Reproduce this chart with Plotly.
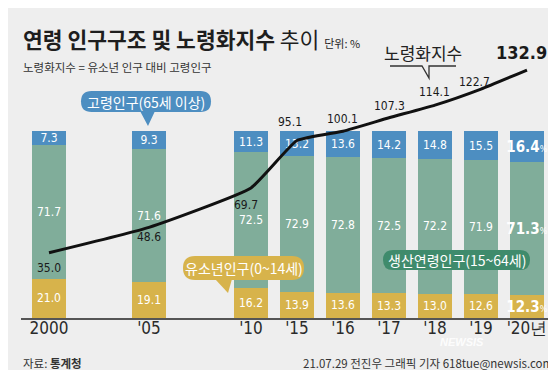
import plotly.graph_objects as go

# ---- data ----
years = ["2000", "'05", "'10", "'15", "'16", "'17", "'18", "'19", "'20년"]
youth = [21.0, 19.1, 16.2, 13.9, 13.6, 13.3, 13.0, 12.6, 12.3]        # 유소년인구(0~14세)
working = [71.7, 71.6, 72.5, 72.9, 72.8, 72.5, 72.2, 71.9, 71.3]     # 생산연령인구(15~64세)
elderly = [7.3, 9.3, 11.3, 13.2, 13.6, 14.2, 14.8, 15.5, 16.4]       # 고령인구(65세 이상)
aging_index = [35.0, 48.6, 69.7, 95.1, 100.1, 107.3, 114.1, 122.7, 132.9]  # 노령화지수

# ---- layout helpers ----
W, H = 556, 370
ML, MR, MT, MB = 13, 12, 0, 60
PW, PH = W - ML - MR, H - MT - MB
x_pos = [0, 2.174, 4.391, 5.391, 6.391, 7.391, 8.391, 9.391, 10.391]
X_RANGE = [(ML - 41) / 46, (W - MR - 41) / 46]
Y_RANGE = [0, PH / 1.866]

NUM_FONT = "DejaVu Sans Condensed, Liberation Sans Narrow, Roboto, sans-serif"
KR_FONT = "Noto Sans CJK KR, sans-serif"

BLUE = "#4d8ec1"
GREEN = "#80ad9a"
YELLOW = "#d7b34b"
DGREEN = "#3f8b6c"
BG = "#eeeeee"


def px(x):
    return (x - ML) / PW


def py(y):
    return (H - MB - y) / PH


def seg_labels(vals):
    out = []
    for i, v in enumerate(vals):
        if i == len(vals) - 1:
            out.append(f"<b>{v:.1f}</b><span style='font-size:9px'>%</span>")
        else:
            out.append(f"{v:.1f}")
    return out


fig = go.Figure()
for name, vals, col in [("유소년인구(0~14세)", youth, YELLOW),
                        ("생산연령인구(15~64세)", working, GREEN),
                        ("고령인구(65세 이상)", elderly, BLUE)]:
    sizes = [12] * (len(vals) - 1) + [15]
    fig.add_trace(go.Bar(
        x=x_pos, y=vals, name=name, marker=dict(color=col, line=dict(width=0)),
        width=0.72, text=seg_labels(vals), textposition="inside", textangle=0,
        insidetextanchor="middle", constraintext="none",
        textfont=dict(color="white", family=NUM_FONT, size=sizes),
        hoverinfo="skip", showlegend=False))

fig.add_trace(go.Scatter(
    x=x_pos, y=aging_index, mode="lines",
    line=dict(color="#111111", width=3, shape="spline", smoothing=0.4),
    hoverinfo="skip", showlegend=False))

# line value labels
shifts = [(0, -15), (0, -10), (-5, -17), (-7, 19), (0, 12), (1, 12), (0, 13), (-6, 7), (22, 18)]
for i, (v, (dx, dy)) in enumerate(zip(aging_index, shifts)):
    last = i == len(aging_index) - 1
    fig.add_annotation(x=x_pos[i], y=v, xref="x", yref="y", showarrow=False,
                       text=f"<b>{v:.1f}</b>" if last else f"{v:.1f}",
                       xshift=dx, yshift=dy, xanchor="right" if last else "center",
                       font=dict(family=NUM_FONT, size=18 if last else 12, color="#1a1a1a"))

shapes = []


def rounded_rect(x0, y0, x1, y1, r, color):
    X0, X1 = px(x0), px(x1)
    Y0, Y1 = py(y0), py(y1)
    rx, ry = r / PW, r / PH
    path = (f"M {X0+rx},{Y0} L {X1-rx},{Y0} Q {X1},{Y0} {X1},{Y0-ry} "
            f"L {X1},{Y1+ry} Q {X1},{Y1} {X1-rx},{Y1} L {X0+rx},{Y1} "
            f"Q {X0},{Y1} {X0},{Y1+ry} L {X0},{Y0-ry} Q {X0},{Y0} {X0+rx},{Y0} Z")
    shapes.append(dict(type="path", xref="paper", yref="paper", path=path,
                       fillcolor=color, line=dict(width=0), layer="above"))


def tri(points, color):
    p = " L ".join(f"{px(a)},{py(b)}" for a, b in points)
    shapes.append(dict(type="path", xref="paper", yref="paper", path=f"M {p} Z",
                       fillcolor=color, line=dict(width=0), layer="above"))


# callouts
rounded_rect(73, 83, 203, 104, 10.5, BLUE)
tri([(132, 103), (147, 103), (140, 118)], BLUE)
rounded_rect(175, 248, 296, 272, 12, YELLOW)
tri([(207, 271), (224, 271), (220, 285)], YELLOW)
rounded_rect(375, 242, 522, 262, 10, DGREEN)

# 노령화지수 bracket
bp = [(382, 58), (414, 58), (421, 70), (421, 58), (448, 58)]
shapes.append(dict(type="path", xref="paper", yref="paper",
                   path="M " + " L ".join(f"{px(a)},{py(b)}" for a, b in bp),
                   line=dict(color="#333333", width=1.3), layer="above"))

ann = [
    dict(x=px(138), y=py(93.5), text="고령인구(65세 이상)", size=14, color="white", xa="center"),
    dict(x=px(235.5), y=py(260), text="유소년인구(0~14세)", size=14, color="white", xa="center"),
    dict(x=px(448.5), y=py(252), text="생산연령인구(15~64세)", size=14, color="white", xa="center"),
    dict(x=px(415), y=py(45), text="노령화지수", size=17, color="#222222", xa="center"),
    dict(x=px(13), y=py(31),
         text="<b>연령 인구구조 및 노령화지수</b> 추이 <span style='font-size:11px'>단위: %</span>",
         size=21.5, color="#1e1e1e", xa="left"),
    dict(x=px(13), y=py(59), text="노령화지수 = 유소년 인구 대비 고령인구", size=11.5, color="#333333", xa="left"),
    dict(x=px(13), y=py(354.5), text="자료: <b>통계청</b>", size=11.5, color="#333333", xa="left"),
    dict(x=px(547), y=py(354.5), text="21.07.29 전진우 그래픽 기자 618tue@newsis.com", size=11.5,
         color="#333333", xa="right"),
]
for a in ann:
    fig.add_annotation(x=a["x"], y=a["y"], xref="paper", yref="paper", showarrow=False,
                       text=a["text"], xanchor=a["xa"], yanchor="middle",
                       font=dict(family=KR_FONT, size=a["size"], color=a["color"]))

# watermark
fig.add_annotation(x=px(478), y=py(342.5), xref="paper", yref="paper", showarrow=False,
                   text="<b><i>NEWSIS</i></b>",
                   font=dict(family="Liberation Sans, Arial, sans-serif", size=11,
                             color="rgba(255,255,255,0.9)"))

fig.update_layout(
    width=W, height=H, barmode="stack",
    margin=dict(l=ML, r=MR, t=MT, b=MB),
    paper_bgcolor=BG, plot_bgcolor=BG,
    shapes=shapes,
    xaxis=dict(range=X_RANGE, tickmode="array", tickvals=x_pos, ticktext=years,
               showgrid=False, zeroline=False, showline=True, linecolor="#555555",
               linewidth=2, ticks="", ticklabelstandoff=-6,
               tickfont=dict(family=NUM_FONT, size=17, color="#2a2a2a"),
               fixedrange=True),
    yaxis=dict(range=Y_RANGE, visible=False, fixedrange=True),
)

fig.write_html("out.html", config={"displayModeBar": False})
